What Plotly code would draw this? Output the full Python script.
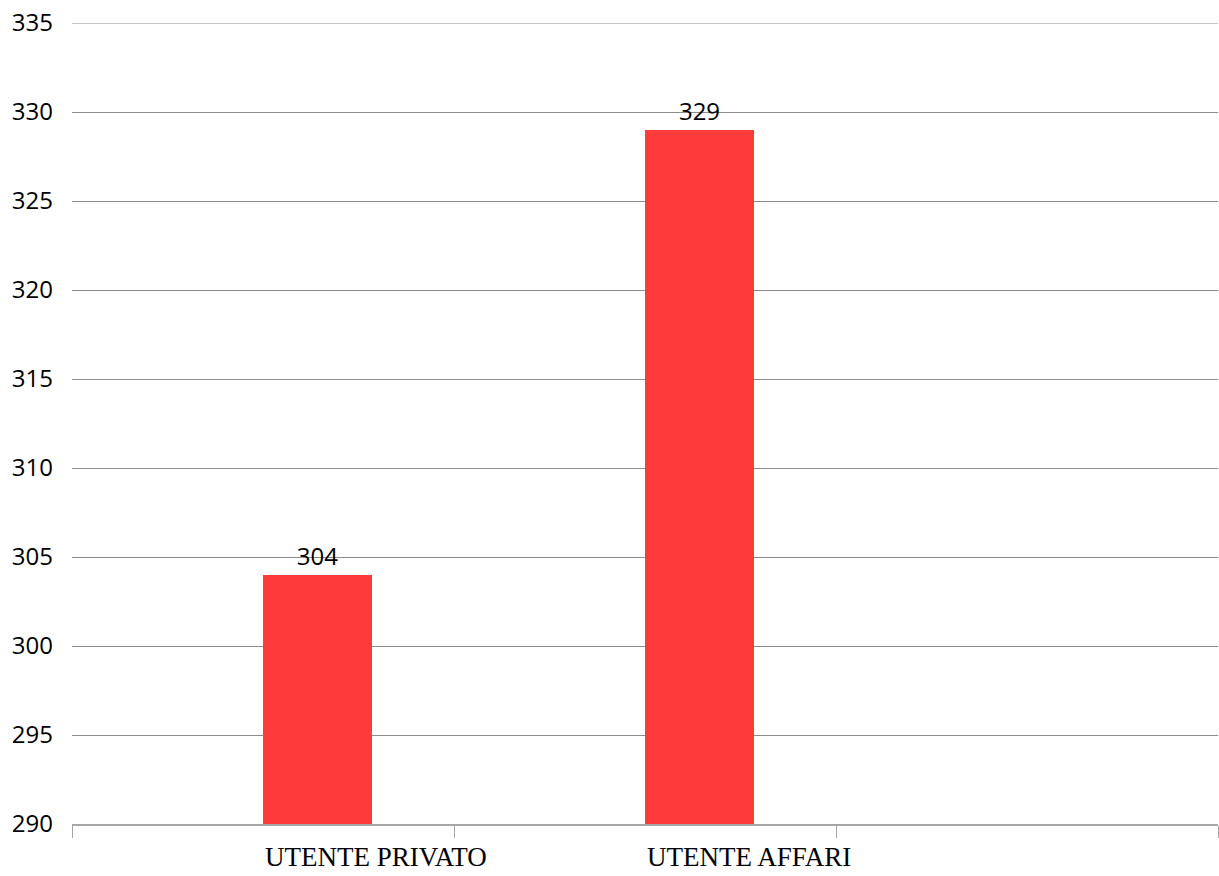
import plotly.graph_objects as go

categories = ["UTENTE PRIVATO", "UTENTE AFFARI"]
values = [304, 329]
y_ticks = [290, 295, 300, 305, 310, 315, 320, 325, 330, 335]

n_slots = 3
xpos = list(range(len(categories)))

fig = go.Figure()
fig.add_trace(go.Bar(
    x=xpos,
    y=values,
    offset=0,
    width=0.285,
    marker=dict(color="#FF3A3A", line=dict(width=0)),
    text=[str(v) for v in values],
    textposition="outside",
    textfont=dict(family="Open Sans", size=24, color="#000000"),
    cliponaxis=False,
    showlegend=False,
))

for i, c in enumerate(categories):
    fig.add_annotation(
        x=i, y=0, xref="x", yref="paper",
        xanchor="left", yanchor="top", yshift=-16,
        text=c, showarrow=False,
        font=dict(family="Liberation Serif", size=27, color="#000000"),
    )

# top gridline at the upper range edge
fig.add_shape(type="line", xref="paper", yref="y",
              x0=0, x1=1, y0=max(y_ticks), y1=max(y_ticks),
              line=dict(color="#8c8c8c", width=1), layer="below")

fig.update_layout(
    width=1219, height=876,
    margin=dict(l=72, r=1, t=23, b=52),
    paper_bgcolor="white", plot_bgcolor="white",
    bargap=0,
)
fig.update_xaxes(
    range=[-0.5, n_slots - 0.5],
    tickvals=[k - 0.5 for k in range(n_slots + 1)],
    ticktext=[""] * (n_slots + 1),
    ticks="outside", ticklen=12, tickcolor="#a6a6a6", tickwidth=1,
    showline=True, linecolor="#a6a6a6", linewidth=2,
    showgrid=False, zeroline=False,
)
fig.update_yaxes(
    range=[min(y_ticks), max(y_ticks)],
    tickvals=y_ticks,
    showgrid=True, gridcolor="#8c8c8c", gridwidth=1,
    zeroline=False, showline=False,
    ticks="", ticklabelstandoff=18,
    tickfont=dict(family="Open Sans", size=24, color="#000000"),
)

fig.write_html("out.html")
